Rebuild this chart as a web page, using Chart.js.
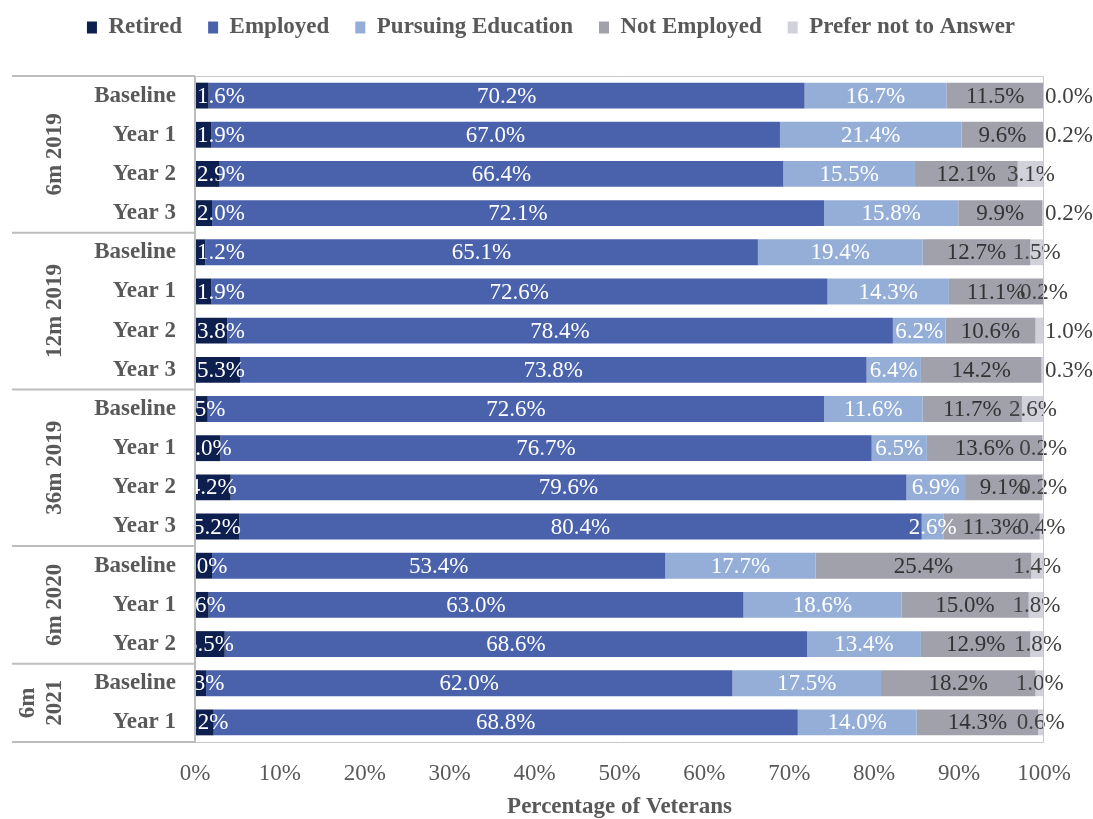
<!DOCTYPE html>
<html>
<head>
<meta charset="utf-8">
<title>Employment status of veterans by cohort</title>
<script src="https://cdn.jsdelivr.net/npm/chart.js@4.4.1/dist/chart.umd.min.js"></script>
<style>
  html, body { margin: 0; padding: 0; background: #fff; }
</style>
</head>
<body>
<canvas id="statusChart" width="1093" height="819"></canvas>
<script>
// survey waves, one bar each, top to bottom
const rowLabels = [
    'Baseline', 'Year 1', 'Year 2', 'Year 3',
    'Baseline', 'Year 1', 'Year 2', 'Year 3',
    'Baseline', 'Year 1', 'Year 2', 'Year 3',
    'Baseline', 'Year 1', 'Year 2',
    'Baseline', 'Year 1'
];

// cohorts on the outer axis and how many waves each one spans
const cohortNames = [['6m 2019'], ['12m 2019'], ['36m 2019'], ['6m 2020'], ['6m', '2021']];
const cohortSizes = [4, 4, 4, 3, 2];

const seriesNames = ['Retired', 'Employed', 'Pursuing Education', 'Not Employed', 'Prefer not to Answer'];

// percent of veterans in each status
const retired     = [1.6, 1.9, 2.9, 2.0, 1.2, 1.9, 3.8, 5.3, 1.5, 3.0, 4.2, 5.2, 2.0, 1.6, 3.5, 1.3, 2.2];
const employed    = [70.2, 67.0, 66.4, 72.1, 65.1, 72.6, 78.4, 73.8, 72.6, 76.7, 79.6, 80.4, 53.4, 63.0, 68.6, 62.0, 68.8];
const education   = [16.7, 21.4, 15.5, 15.8, 19.4, 14.3, 6.2, 6.4, 11.6, 6.5, 6.9, 2.6, 17.7, 18.6, 13.4, 17.5, 14.0];
const notEmployed = [11.5, 9.6, 12.1, 9.9, 12.7, 11.1, 10.6, 14.2, 11.7, 13.6, 9.1, 11.3, 25.4, 15.0, 12.9, 18.2, 14.3];
const noAnswer    = [0.0, 0.2, 3.1, 0.2, 1.5, 0.2, 1.0, 0.3, 2.6, 0.2, 0.2, 0.4, 1.4, 1.8, 1.8, 1.0, 0.6];

const xTicks = [0, 10, 20, 30, 40, 50, 60, 70, 80, 90, 100];

const seriesColors = ['#0c1f4e', '#4a62ab', '#94aed8', '#a1a1ab', '#d0d1d9'];
const labelColors = ['#ffffff', '#ffffff', '#ffffff', '#333333', '#404040'];

const SERIF = '"Liberation Serif", "Times New Roman", serif';
const GREY = '#595959';

// push the plot down below the legend and centre the legend on the page
const legendSpacer = {
    id: 'legendSpacer',
    beforeInit(chart) {
        const fit = chart.legend.fit;
        chart.legend.fit = function () {
            fit.bind(chart.legend)();
            this.height += 27;
        };
    },
    afterLayout(chart) {
        chart.legend.left += 29;
        chart.legend.right += 29;
    }
};

// percentage text on each segment
const segmentLabels = {
    id: 'segmentLabels',
    afterDatasetsDraw(chart) {
        const { ctx, chartArea } = chart;
        ctx.save();
        ctx.font = '23px ' + SERIF;
        ctx.textBaseline = 'middle';
        chart.data.datasets.forEach((ds, di) => {
            const meta = chart.getDatasetMeta(di);
            meta.data.forEach((bar, i) => {
                const v = ds.data[i];
                let x = (bar.x + bar.base) / 2;
                ctx.textAlign = 'center';
                if (di === 0 && i < 8) {
                    // 2019 cohorts: retired share starts at the axis
                    ctx.textAlign = 'left';
                    x = chartArea.left + 2;
                }
                if (di === 4 && i < 8 && v <= 1.0 && i !== 5) {
                    // tiny "prefer not" shares sit past the bar end
                    ctx.textAlign = 'left';
                    x = chartArea.right + 1;
                }
                ctx.fillStyle = labelColors[di];
                ctx.fillText(v.toFixed(1) + '%', x, bar.y + 1);
            });
        });
        ctx.restore();
    }
};

// outer cohort axis with its boxes, plus the plot frame
const cohortAxis = {
    id: 'cohortAxis',
    afterDraw(chart) {
        const { ctx, chartArea } = chart;
        const y = chart.scales.y;
        const step = y.getPixelForValue(1) - y.getPixelForValue(0);
        const frameLeft = 12;
        ctx.save();

        ctx.strokeStyle = '#c8c8c8';
        ctx.lineWidth = 1;
        ctx.beginPath();
        ctx.moveTo(chartArea.left, chartArea.top + 0.5);
        ctx.lineTo(chartArea.right - 0.5, chartArea.top + 0.5);
        ctx.lineTo(chartArea.right - 0.5, chartArea.bottom + 0.5);
        ctx.lineTo(chartArea.left, chartArea.bottom + 0.5);
        ctx.stroke();

        ctx.strokeStyle = '#bdbdbd';
        ctx.lineWidth = 2;
        ctx.beginPath();
        ctx.moveTo(chartArea.left, chartArea.top);
        ctx.lineTo(chartArea.left, chartArea.bottom);
        ctx.moveTo(frameLeft, chartArea.top);
        ctx.lineTo(chartArea.left, chartArea.top);
        ctx.stroke();

        ctx.fillStyle = GREY;
        ctx.font = 'bold 23px ' + SERIF;
        ctx.textAlign = 'center';
        ctx.textBaseline = 'middle';

        let row = 0;
        cohortSizes.forEach((n, gi) => {
            const first = y.getPixelForValue(row);
            const last = y.getPixelForValue(row + n - 1);
            const edge = last + step / 2;

            ctx.beginPath();
            ctx.moveTo(frameLeft, edge);
            ctx.lineTo(chartArea.left, edge);
            ctx.stroke();

            const lines = cohortNames[gi];
            ctx.save();
            ctx.translate(55, (first + last) / 2);
            ctx.rotate(-Math.PI / 2);
            lines.forEach((line, li) => {
                ctx.fillText(line, 0, (li - lines.length + 1) * 27);
            });
            ctx.restore();
            row += n;
        });
        ctx.restore();
    }
};

const datasets = [retired, employed, education, notEmployed, noAnswer].map((values, i) => ({
    label: seriesNames[i],
    data: values,
    backgroundColor: seriesColors[i],
    borderWidth: 0,
    barPercentage: 0.66,
    categoryPercentage: 1.0
}));

new Chart(document.getElementById('statusChart'), {
    type: 'bar',
    data: {
        labels: rowLabels,
        datasets: datasets
    },
    options: {
        indexAxis: 'y',
        responsive: false,
        animation: false,
        layout: {
            padding: { top: -10, right: 49, bottom: 0, left: 0 }
        },
        scales: {
            x: {
                stacked: true,
                min: 0,
                max: 100,
                afterBuildTicks(scale) {
                    scale.ticks = xTicks.map(v => ({ value: v }));
                },
                afterFit(scale) {
                    scale.height = 77;
                },
                ticks: {
                    autoSkip: false,
                    maxRotation: 0,
                    padding: 18,
                    color: GREY,
                    font: { family: SERIF, size: 23 },
                    callback: v => v + '%'
                },
                grid: { display: false, drawTicks: false },
                border: { display: false },
                title: {
                    display: true,
                    text: 'Percentage of Veterans',
                    color: GREY,
                    font: { family: SERIF, size: 23, weight: 'bold', lineHeight: 1.05 },
                    padding: { top: 5, bottom: 0 }
                }
            },
            y: {
                stacked: true,
                grid: { display: false, drawTicks: false },
                border: { display: false },
                ticks: {
                    autoSkip: false,
                    padding: 19,
                    color: GREY,
                    font: { family: SERIF, size: 23, weight: 'bold' }
                },
                afterFit(scale) {
                    scale.width = 195;
                }
            }
        },
        plugins: {
            legend: {
                position: 'top',
                labels: {
                    boxWidth: 10,
                    boxHeight: 12,
                    padding: 26,
                    color: GREY,
                    font: { family: SERIF, size: 23, weight: 'bold' }
                }
            },
            tooltip: { enabled: false }
        }
    },
    plugins: [legendSpacer, segmentLabels, cohortAxis]
});
</script>
</body>
</html>
